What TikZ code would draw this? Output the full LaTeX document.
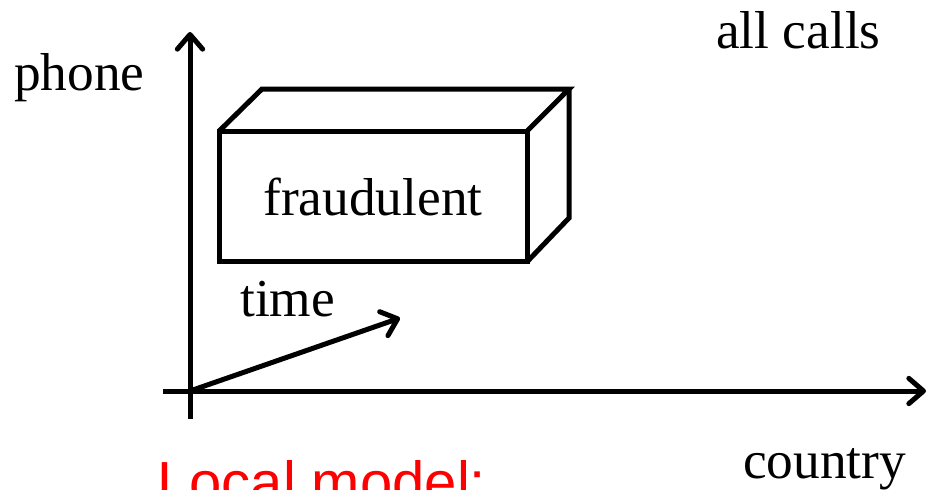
\documentclass[tikz,border=0pt]{standalone}
\usepackage{fontspec}
\setmainfont{Liberation Serif}
\newfontfamily\arialfont{Liberation Sans}
\usetikzlibrary{arrows.meta}
\tikzstyle{label}=[inner sep=0pt, anchor=base west, font=\fontsize{40}{48}\selectfont]
\tikzstyle{redlabel}=[inner sep=0pt, anchor=base west, text=red, font=\arialfont\fontsize{43.5}{52}\selectfont]
\tikzstyle{face}=[draw=black, line width=3.75pt, line join=miter]
\tikzstyle{axis}=[draw=black, line width=3.75pt, -{Straight Barb[length=11pt, width=19pt, line cap=round, line join=round]}]

\begin{document}
\begin{tikzpicture}[x=0.75pt, y=-0.75pt]
		   \clip (0, 0) rectangle (928, 489);
		   \useasboundingbox (0, 0) rectangle (928, 489);
		   \begin{scope}
			   \coordinate (o) at (190, 391);
			   \coordinate (ybot) at (190, 419);
			   \coordinate (ytop) at (190, 32);
			   \coordinate (xleft) at (163, 391);
			   \coordinate (xright) at (926, 391);
			   \coordinate (ttip) at (400, 318);
		   \end{scope}
		   \begin{scope}
			   \node (fraud) at (373, 196.5)[face, minimum width=231pt, minimum height=98pt, inner sep=0pt, outer sep=0pt, font=\fontsize{40}{48}\selectfont] {fraudulent};
			   \coordinate (backnw) at (262, 89);
			   \coordinate (backne) at (569, 89);
			   \coordinate (backse) at (569, 218);
		   \end{scope}
		   \begin{scope}
			   \path [face] (fraud.north west) -- (backnw) -- (backne) -- (fraud.north east);
			   \path [face] (backne) -- (backse) -- (fraud.south east);
		   \end{scope}
		   \begin{scope}
			   \path [axis] (ybot) -- (ytop);
			   \path [axis] (xleft) -- (xright);
			   \path [axis] (o) -- (ttip);
		   \end{scope}
		   \begin{scope}
			   \node (phone) at (14, 90)[label] {phone};
			   \node (allcalls) at (716, 48)[label] {all calls};
			   \node (time) at (240, 316)[label] {time};
			   \node (country) at (743, 478)[label] {country};
			   \node (local) at (157, 502)[redlabel] {Local model:};
		   \end{scope}
	   \end{tikzpicture}
\end{document}
